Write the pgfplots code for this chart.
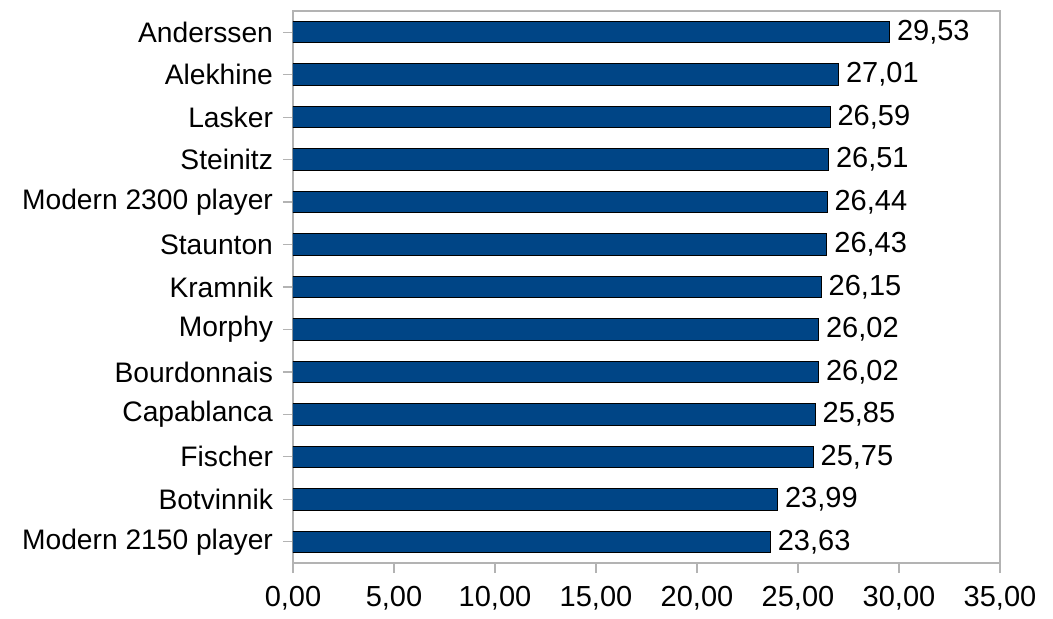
\documentclass[border=0pt]{standalone}
\usepackage{fontspec}
\setmainfont{Liberation Sans}
\usepackage{pgfplots}
\pgfplotsset{compat=1.18}
\definecolor{barblue}{HTML}{004586}
\definecolor{axgray}{HTML}{B3B3B3}
\begin{document}
\begin{tikzpicture}
\begin{axis}[
  at={(0pt,0pt)}, anchor=south west,
  scale only axis,
  width=353.5pt, height=276pt,
  xmin=0, xmax=35, ymin=-0.5, ymax=12.5,
  xtick={0,5,...,35},
  ytick={0,...,12},
  yticklabels={Modern 2150 player,Botvinnik,Fischer,Capablanca,Bourdonnais,Morphy,Kramnik,Staunton,Modern 2300 player,Steinitz,Lasker,Alekhine,Anderssen},
  axis line style={axgray, line width=0.6pt},
  tick style={axgray, line width=0.6pt},
  major tick length=5pt,
  tick align=outside,
  xtick pos=bottom, ytick pos=left,
  font=\fontsize{14.5}{16}\selectfont,
  tick label style={black},
  xticklabel style={yshift=-3pt},
  yticklabel style={xshift=-1.5pt, font=\fontsize{14.1}{16}\selectfont},
  /pgf/number format/.cd, fixed, fixed zerofill, precision=2, use comma, assume math mode=true,
  /pgfplots/.cd,
  xbar, bar shift=0pt, bar width=10.75pt,
  nodes near coords,
  nodes near coords style={black, anchor=west, inner xsep=3.5pt},
]
\addplot[fill=barblue, draw=black, line width=0.5pt] coordinates {
(23.63,0) (23.99,1) (25.75,2) (25.85,3) (26.02,4) (26.02,5) (26.15,6) (26.43,7) (26.44,8) (26.51,9) (26.59,10) (27.01,11) (29.53,12)
};
\end{axis}
\pgfresetboundingbox
\useasboundingbox (-146.5pt,-27.5pt) rectangle (380pt,281.5pt);
\end{tikzpicture}
\end{document}
